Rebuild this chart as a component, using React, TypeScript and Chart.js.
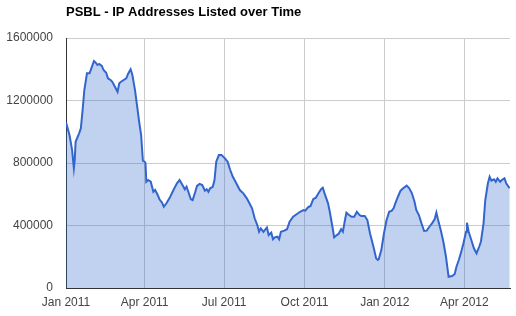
import React, { useEffect, useRef } from "react";
import { Chart, registerables } from "chart.js";

Chart.register(...registerables);

const chartTitle = "PSBL - IP Addresses Listed over Time";

// days since 1 Jan 2011
const days = [0,4,7,9,10,11,15,17,19,21,24,27,29,32,34,36,38,41,43,46,48,51,53,56,59,61,63,66,69,71,74,76,79,81,84,86,88,90,91,92,94,97,100,102,105,107,110,112,115,119,123,127,130,134,136,138,140,143,145,148,150,153,156,159,161,163,165,168,170,172,175,178,182,185,188,191,193,196,199,203,207,210,213,216,219,221,223,226,230,232,235,237,239,242,244,246,250,253,256,260,264,268,272,274,277,280,283,286,289,292,294,296,300,302,305,307,310,312,315,317,319,321,324,327,330,333,336,338,342,345,348,352,355,357,358,361,364,367,370,373,375,377,380,383,386,390,393,396,399,401,404,407,410,413,416,419,422,424,426,429,432,435,437,438,442,445,447,450,453,455,458,459,461,464,467,470,473,475,478,480,483,485,487,490,492,494,497,499,502,504,507,508];

const listed = [1060000,979000,883000,766000,819000,936000,990000,1022000,1139000,1267000,1374000,1374000,1406000,1453000,1442000,1427000,1434000,1421000,1395000,1378000,1342000,1331000,1320000,1288000,1256000,1310000,1320000,1331000,1342000,1370000,1400000,1363000,1267000,1182000,1054000,979000,815000,808000,800000,680000,691000,680000,616000,627000,595000,568000,546000,520000,542000,580000,627000,670000,691000,653000,632000,648000,616000,568000,563000,616000,653000,666000,659000,623000,632000,616000,638000,648000,691000,808000,851000,851000,830000,808000,755000,712000,691000,659000,627000,606000,574000,542000,510000,446000,403000,360000,382000,360000,388000,339000,354000,312000,324000,328000,312000,360000,367000,376000,424000,456000,472000,488000,499000,495000,516000,525000,568000,578000,606000,632000,642000,606000,542000,488000,392000,324000,339000,346000,376000,360000,424000,482000,467000,456000,456000,488000,467000,461000,461000,435000,350000,264000,190000,180000,184000,243000,350000,435000,488000,495000,510000,542000,584000,623000,638000,655000,638000,606000,552000,499000,467000,414000,365000,367000,392000,414000,440000,482000,435000,371000,296000,200000,115000,72000,77000,90000,136000,184000,243000,286000,360000,418000,360000,307000,254000,222000,264000,296000,414000,563000,670000,712000,687000,696000,680000,702000,680000,691000,702000,670000,644000,640000];

const tickDays = [0, 90, 181, 273, 365, 456];
const tickLabels = ["Jan 2011", "Apr 2011", "Jul 2011", "Oct 2011", "Jan 2012", "Apr 2012"];
const lastDay = 508.3;

const yTicks = [0, 400000, 800000, 1200000, 1600000];

const FONT = "Arial, 'Liberation Sans', sans-serif";

export default function App() {
  const ref = useRef<HTMLCanvasElement | null>(null);

  useEffect(() => {
    if (!ref.current) return;
    const titlePlugin = {
      id: "customTitle",
      afterDraw(chart: any) {
        const ctx = chart.ctx;
        ctx.save();
        ctx.font = `bold 13px ${FONT}`;
        ctx.fillStyle = "#000";
        ctx.textAlign = "left";
        ctx.textBaseline = "alphabetic";
        ctx.fillText(chartTitle, chart.chartArea.left, 16);
        ctx.restore();
      },
    };
    const chart = new Chart(ref.current, {
      type: "line",
      data: {
        datasets: [
          {
            data: days.map((d, i) => ({ x: d, y: listed[i] })),
            borderColor: "#3366cc",
            backgroundColor: "rgba(51,102,204,0.3)",
            borderWidth: 2,
            pointRadius: 0,
            fill: "origin",
            tension: 0,
          },
        ],
      },
      options: {
        responsive: false,
        animation: false,
        layout: { padding: { top: 38, left: 0, right: 6, bottom: 0 } },
        plugins: {
          legend: { display: false },
          tooltip: { enabled: false },
          title: { display: false },
        },
        scales: {
          x: {
            type: "linear",
            min: 0,
            max: lastDay,
            afterBuildTicks: (s: any) => {
              s.ticks = tickDays.map((v) => ({ value: v }));
            },
            afterFit: (s: any) => {
              s.height = 28;
            },
            grid: { color: "#cccccc", lineWidth: 1, drawTicks: false },
            border: { color: "#333333", width: 1 },
            ticks: {
              autoSkip: false,
              maxRotation: 0,
              padding: 7,
              color: "#444444",
              font: { family: FONT, size: 12 },
              callback: (v: any) => {
                const i = tickDays.indexOf(Number(v));
                return i >= 0 ? tickLabels[i] : "";
              },
            },
          },
          y: {
            min: 0,
            max: 1600000,
            afterBuildTicks: (s: any) => {
              s.ticks = yTicks.map((v) => ({ value: v }));
            },
            afterFit: (s: any) => {
              s.width = 66;
            },
            grid: { color: "#cccccc", lineWidth: 1, drawTicks: false },
            border: { color: "#333333", width: 1 },
            ticks: {
              padding: 13,
              color: "#444444",
              font: { family: FONT, size: 12 },
              callback: (v: any) => String(v),
            },
          },
        },
      },
      plugins: [titlePlugin],
    });
    return () => chart.destroy();
  }, []);

  return (
    <div style={{ position: "absolute", left: 0, top: 0, width: 516, height: 316, background: "#fff" }}>
      <canvas ref={ref} width={516} height={316} style={{ display: "block" }} />
    </div>
  );
}
